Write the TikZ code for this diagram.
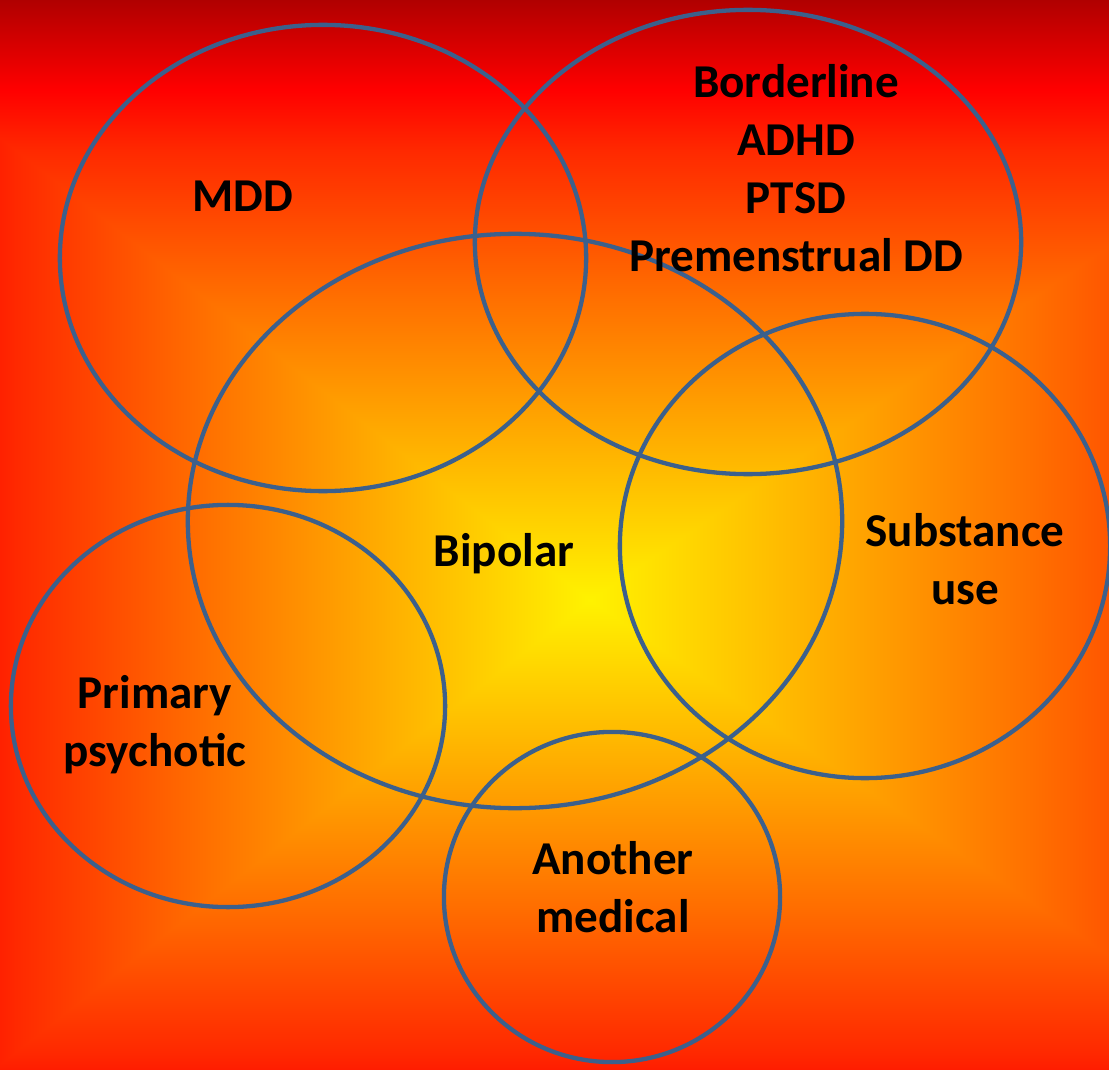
\documentclass[tikz,border=0pt]{standalone}
\usepackage{fontspec}
\setmainfont{Carlito}
\definecolor{ringblue}{RGB}{60,96,140}
% rectangular glow: same stops in every direction, edge first or centre first
\pgfdeclarehorizontalshading{glowL}{100bp}{rgb(0bp)=(0.69,0,0); rgb(25bp)=(0.69,0,0); rgb(32.5bp)=(1,0,0);
  rgb(37.5bp)=(1,0.16,0); rgb(50bp)=(1,0.44,0); rgb(62.5bp)=(1,0.7,0); rgb(75bp)=(1,0.95,0); rgb(100bp)=(1,0.95,0)}
\pgfdeclarehorizontalshading{glowR}{100bp}{rgb(0bp)=(1,0.95,0); rgb(25bp)=(1,0.95,0); rgb(37.5bp)=(1,0.7,0);
  rgb(50bp)=(1,0.44,0); rgb(62.5bp)=(1,0.16,0); rgb(67.5bp)=(1,0,0); rgb(75bp)=(0.69,0,0); rgb(100bp)=(0.69,0,0)}
\pgfdeclareverticalshading{glowB}{100bp}{rgb(0bp)=(0.69,0,0); rgb(25bp)=(0.69,0,0); rgb(32.5bp)=(1,0,0);
  rgb(37.5bp)=(1,0.16,0); rgb(50bp)=(1,0.44,0); rgb(62.5bp)=(1,0.7,0); rgb(75bp)=(1,0.95,0); rgb(100bp)=(1,0.95,0)}
\pgfdeclareverticalshading{glowT}{100bp}{rgb(0bp)=(1,0.95,0); rgb(25bp)=(1,0.95,0); rgb(37.5bp)=(1,0.7,0);
  rgb(50bp)=(1,0.44,0); rgb(62.5bp)=(1,0.16,0); rgb(67.5bp)=(1,0,0); rgb(75bp)=(0.69,0,0); rgb(100bp)=(0.69,0,0)}
\tikzstyle{ring}=[draw=ringblue,line width=1.22pt]
\tikzstyle{venntext}=[font=\bfseries\fontsize{13.4}{16.5}\selectfont,
  			  align=center,inner sep=0pt,text=black]

\begin{document}
\begin{tikzpicture}[x=0.01cm,y=-0.01cm]
	\useasboundingbox (0,0) rectangle (1109,1070);
	\coordinate (glow) at (590,600);
	\begin{scope}
		\clip (0,0) rectangle (glow |- 0,1070);
		\shade[shading=glowL] (-176,0) rectangle (590,1070);
	\end{scope}
	\begin{scope}
		\clip (glow |- 0,0) rectangle (1109,1070);
		\shade[shading=glowR] (590,0) rectangle (1470,1070);
	\end{scope}
	\begin{scope}
		\clip (0,0) -- (1109,0) -- (1109,246) -- (glow) -- (0,138) -- cycle;
		\shade[shading=glowT] (0,0) rectangle (1109,600);
	\end{scope}
	\begin{scope}
		\clip (0,1064) -- (glow) -- (1109,956) -- (1109,1070) -- (0,1070) -- cycle;
		\shade[shading=glowB] (0,600) rectangle (1109,1203);
	\end{scope}

	\coordinate (cmdd) at (323,258);
	\coordinate (cbord) at (748,242);
	\coordinate (cbip) at (515,521);
	\coordinate (csub) at (865,546);
	\coordinate (cpsy) at (228,706);
	\coordinate (cmed) at (612,897);

	\draw[ring] (cmdd) ellipse [x radius=2.63cm, y radius=2.33cm];
	\draw[ring] (cbord) ellipse [x radius=2.73cm, y radius=2.32cm];
	\draw[ring] (cbip) ellipse [x radius=3.27cm, y radius=2.87cm];
	\draw[ring] (csub) ellipse [x radius=2.45cm, y radius=2.32cm];
	\draw[ring] (cpsy) ellipse [x radius=2.17cm, y radius=2.01cm];
	\draw[ring] (cmed) ellipse [x radius=1.68cm, y radius=1.65cm];

	\node[venntext] (mdd) at (243,196) {MDD};
	\node[venntext] (bord) at (796,168) {Borderline\\ADHD\\PTSD\\Premenstrual DD};
	\node[venntext] (bip) at (504,554) {Bipolar};
	\node[venntext] (sub) at (965,559) {Substance\\use};
	\node[venntext] (psy) at (155,725) {Primary\\psychotic};
	\node[venntext] (med) at (613,887) {Another\\medical};
\end{tikzpicture}
\end{document}
